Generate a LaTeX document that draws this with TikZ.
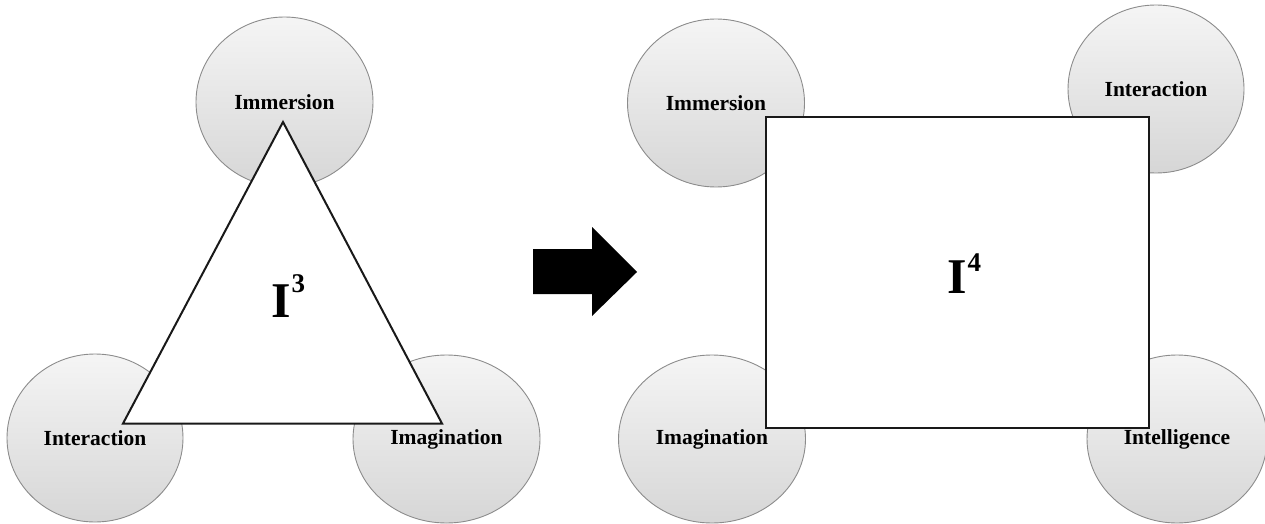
\documentclass[tikz,border=0pt]{standalone}
\usepackage{fontspec}
\setmainfont{Liberation Serif}
\usetikzlibrary{shapes.geometric}
\tikzset{
  bubble/.style={ellipse, draw=black!45, line width=0.9pt, top color=gray!8, bottom color=gray!32,
    inner sep=0pt, font=\bfseries\fontsize{21.5}{21.5}\selectfont, text=black},
  frame/.style={draw=black!90, line width=2pt, fill=white},
  bigI/.style={font=\bfseries\fontsize{50}{50}\selectfont, inner sep=0pt, anchor=base west}
}
\begin{document}
\begin{tikzpicture}[x=1pt,y=-1pt]
\useasboundingbox (0,0) rectangle (1265,524);
% left group
\node[bubble, minimum width=177pt, minimum height=170pt] (limm) at (284.5,102) {Immersion};
\node[bubble, minimum width=176pt, minimum height=168pt] (lint) at (95,438) {Interaction};
\node[bubble, minimum width=187pt, minimum height=168pt] (lima) at (446.5,439) {Imagination};
\coordinate (ta) at (283,122);
\coordinate (tl) at (123,423.5);
\coordinate (tr) at (442,423.5);
\draw[frame, line join=miter] (ta) -- (tl) -- (tr) -- cycle;
\node[bigI] (i3) at (271,317) {I\kern1pt\raisebox{25pt}{\bfseries\fontsize{27}{27}\selectfont 3}};
% arrow
\coordinate (a1) at (533,249);
\coordinate (a2) at (592,249);
\coordinate (a3) at (592,227);
\coordinate (a4) at (637,272);
\coordinate (a5) at (592,316);
\coordinate (a6) at (592,294);
\coordinate (a7) at (533,294);
\fill[black] (a1) -- (a2) -- (a3) -- (a4) -- (a5) -- (a6) -- (a7) -- cycle;
% right group
\node[bubble, minimum width=177pt, minimum height=168pt] (rimm) at (716,103) {Immersion};
\node[bubble, minimum width=176pt, minimum height=168pt] (rint) at (1156,89) {Interaction};
\node[bubble, minimum width=187pt, minimum height=168pt] (rima) at (712,439) {Imagination};
\node[bubble, minimum width=180pt, minimum height=168pt] (rintel) at (1177,439) {Intelligence};
\coordinate (r1) at (766,117);
\coordinate (r2) at (1149,428);
\draw[frame, line width=2.4pt] (r1) rectangle (r2);
\node[bigI] (i4) at (947,293) {I\kern1pt\raisebox{22pt}{\bfseries\fontsize{27}{27}\selectfont 4}};
\end{tikzpicture}
\end{document}
